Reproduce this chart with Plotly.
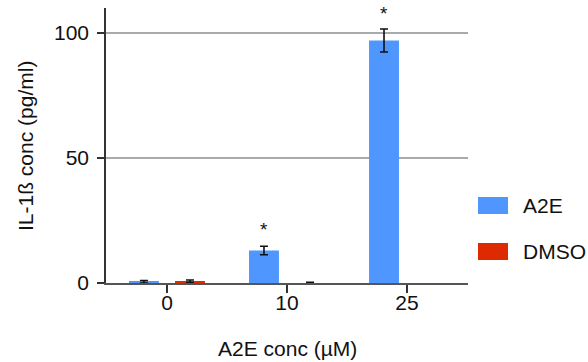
import plotly.graph_objects as go

categories = ["0", "10", "25"]
a2e_values = [0.5, 13.0, 97.0]
a2e_errors = [0.5, 1.7, 4.6]
dmso_values = [0.7, 0.0, -0.8]
dmso_errors = [0.5, 0.3, 0.0]
star_y = [21.5, 107.7]
star_cats = ["10", "25"]
y_ticks = [0, 50, 100]
legend_names = ["A2E", "DMSO"]
x_title = "A2E conc (µM)"
y_title = "IL-1ß conc (pg/ml)"

BLUE = "#4F96FF"
RED = "#DE2A00"
FONT = "Liberation Sans, Arial, Helvetica, sans-serif"
FS = 21

W, H = 588, 362
PLOT_L, PLOT_R, PLOT_T, PLOT_B = 106, 468, 8, 283
L, R, T, B = PLOT_L, W - PLOT_R, PLOT_T, H - PLOT_B
PW, PH = PLOT_R - PLOT_L, PLOT_B - PLOT_T


def px(x):
    return (x - PLOT_L) / PW


def py(y):
    return (PLOT_B - y) / PH


fig = go.Figure()
fig.add_trace(go.Bar(
    x=categories, y=a2e_values, name="A2E", marker=dict(color=BLUE, line=dict(width=0)),
    error_y=dict(type="data", array=a2e_errors, color="#111111", thickness=1.6, width=4),
    showlegend=False,
))
fig.add_trace(go.Bar(
    x=categories, y=dmso_values, name="DMSO", marker=dict(color=RED, line=dict(width=0)),
    error_y=dict(type="data", array=dmso_errors, color="#111111", thickness=1.6, width=4),
    showlegend=False,
))

for c, yv in zip(star_cats, star_y):
    fig.add_annotation(x=categories.index(c), y=yv, text="*", showarrow=False, xshift=-23,
                       font=dict(family=FONT, size=19, color="#111111"),
                       xanchor="center", yanchor="middle")

# custom legend
colors = [BLUE, RED]
for i, (name, col) in enumerate(zip(legend_names, colors)):
    top = 197 + i * 46
    fig.add_shape(type="rect", xref="paper", yref="paper",
                  x0=px(478), x1=px(508), y0=py(top + 17), y1=py(top),
                  fillcolor=col, line=dict(width=0))
    fig.add_annotation(xref="paper", yref="paper", x=px(521), y=py(top + 8.5),
                       text=name, showarrow=False, xanchor="left", yanchor="middle",
                       font=dict(family=FONT, size=FS, color="#111111"))

# axis titles
fig.add_annotation(xref="paper", yref="paper", x=px(287), y=py(348),
                   text=x_title, showarrow=False, xanchor="center", yanchor="middle",
                   font=dict(family=FONT, size=FS, color="#111111"))
fig.add_annotation(xref="paper", yref="paper", x=px(25), y=py(146),
                   text=y_title, showarrow=False, xanchor="center", yanchor="middle",
                   textangle=-90, font=dict(family=FONT, size=FS, color="#111111"))

fig.update_layout(
    width=W, height=H,
    margin=dict(l=L, r=R, t=T, b=B, autoexpand=False),
    paper_bgcolor="white", plot_bgcolor="white",
    barmode="group", bargap=0.233, bargroupgap=0.35,
    font=dict(family=FONT, size=FS, color="#111111"),
    xaxis=dict(
        type="category", categoryorder="array", categoryarray=categories,
        range=[-0.508, 2.508], automargin=False,
        showline=True, linecolor="#555555", linewidth=2,
        ticks="outside", ticklen=8, tickwidth=1.5, tickcolor="#333333",
        ticklabelstandoff=-8,
        showgrid=False, zeroline=False,
        tickfont=dict(family=FONT, size=FS),
    ),
    yaxis=dict(
        range=[0, 110], tickvals=y_ticks, automargin=False,
        showline=True, linecolor="#333333", linewidth=1.5,
        ticks="outside", ticklen=7, tickwidth=1.5, tickcolor="#333333",
        ticklabelstandoff=4,
        showgrid=True, gridcolor="#AAAAAA", gridwidth=1.5, zeroline=False,
        tickfont=dict(family=FONT, size=FS),
    ),
)

fig.write_html(
    "out.html",
    config={"displayModeBar": False},
    post_script="document.body.style.margin='0';document.body.style.overflow='hidden';",
)
